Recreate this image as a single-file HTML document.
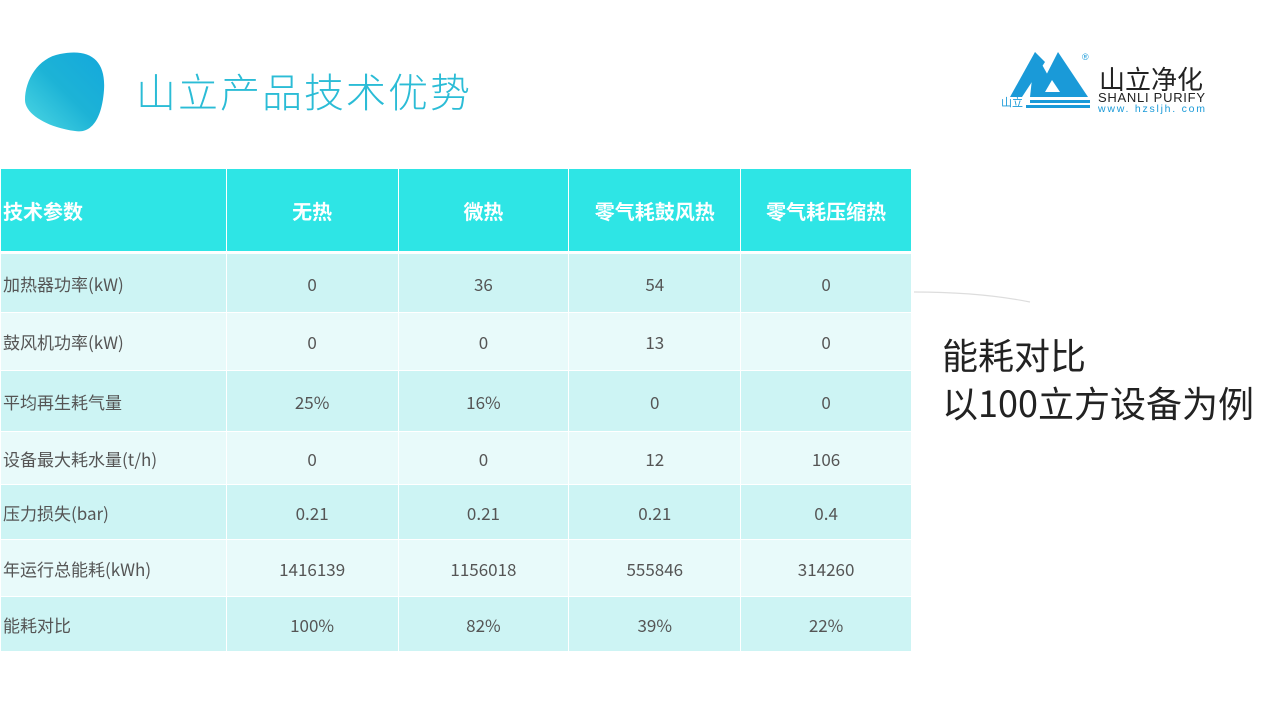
<!DOCTYPE html>
<html><head><meta charset="utf-8"><style>
body{margin:0;width:1280px;height:720px;background:#fff;position:relative;overflow:hidden;font-family:"Liberation Sans","Noto Sans CJK SC",sans-serif}
.t{position:absolute;left:136px;top:64px;font-size:40px;letter-spacing:2px;color:#2bbcd6;font-family:"Noto Sans CJK SC",sans-serif;font-weight:300;line-height:52px}
table{position:absolute;left:0;top:168px;border-collapse:collapse;width:912px;font-family:"Noto Sans CJK SC",sans-serif;font-size:17px;color:#555}
td{border:1px solid #fff;text-align:center;padding:0;vertical-align:middle}
td:first-child{text-align:left;padding-left:2px}
tr.h td{background:#2ee5e5;color:#fff;font-weight:bold;font-size:20px;height:82px;border-bottom:3px solid #fff}
tr.a td{background:#cdf4f4}
tr.b td{background:#e8fafa}
.r1{position:absolute;left:942px;top:330px;font-size:36px;color:#222;font-family:"Noto Sans CJK SC",sans-serif;line-height:48px}
</style></head><body>
<svg style="position:absolute;left:0;top:0" width="1280" height="720">
<defs><linearGradient id="g" x1="0" y1="1" x2="1" y2="0"><stop offset="0" stop-color="#4fd9e4"/><stop offset="0.5" stop-color="#1db3d6"/><stop offset="1" stop-color="#14a8dc"/></linearGradient></defs>
<path d="M60 54 C90 48 106 60 104 90 C102 118 92 134 75 131 C50 128 25 115 25 100 C25 80 38 58 60 54Z" fill="url(#g)"/>
<path d="M914 292 Q980 292 1030 302" stroke="#ddd" fill="none" stroke-width="1.2"/>
<polygon points="1035,52 1010,97 1022,97 1045,62" fill="#1a9ad8"/>
<polygon points="1035,52 1060,97 1030,97" fill="#1a9ad8"/>
<polygon points="1058,52 1035,97 1088,97" fill="#1a9ad8"/>
<polygon points="1052,80 1045,92 1060,92" fill="#fff"/>
<rect x="1030" y="100" width="60" height="3" fill="#1a9ad8"/>
<rect x="1026" y="105" width="64" height="3" fill="#1a9ad8"/>
<text x="1001" y="106" font-size="11" fill="#1a9ad8" font-family="Noto Sans CJK SC">山立</text>
<text x="1082" y="60" font-size="9" fill="#1a9ad8">®</text>
<text x="1099" y="89" font-size="26" fill="#222" font-family="Noto Sans CJK SC">山立净化</text>
<text x="1098" y="102" font-size="13" fill="#222" textLength="107">SHANLI PURIFY</text>
<text x="1098" y="112" font-size="10.5" fill="#1a9ad8" textLength="107">www. hzsljh. com</text>
</svg>
<div class="t">山立产品技术优势</div>
<table>
<colgroup><col style="width:226px"><col style="width:172px"><col style="width:171px"><col style="width:172px"><col style="width:171px"></colgroup>
<tr class="h"><td>技术参数</td><td>无热</td><td>微热</td><td>零气耗鼓风热</td><td>零气耗压缩热</td></tr>
<tr class="a" style="height:60px"><td>加热器功率(kW)</td><td>0</td><td>36</td><td>54</td><td>0</td></tr>
<tr class="b" style="height:58px"><td>鼓风机功率(kW)</td><td>0</td><td>0</td><td>13</td><td>0</td></tr>
<tr class="a" style="height:61px"><td>平均再生耗气量</td><td>25%</td><td>16%</td><td>0</td><td>0</td></tr>
<tr class="b" style="height:53px"><td>设备最大耗水量(t/h)</td><td>0</td><td>0</td><td>12</td><td>106</td></tr>
<tr class="a" style="height:55px"><td>压力损失(bar)</td><td>0.21</td><td>0.21</td><td>0.21</td><td>0.4</td></tr>
<tr class="b" style="height:57px"><td>年运行总能耗(kWh)</td><td>1416139</td><td>1156018</td><td>555846</td><td>314260</td></tr>
<tr class="a" style="height:55px"><td>能耗对比</td><td>100%</td><td>82%</td><td>39%</td><td>22%</td></tr>
</table>
<div class="r1">能耗对比<br>以100立方设备为例</div>
</body></html>
